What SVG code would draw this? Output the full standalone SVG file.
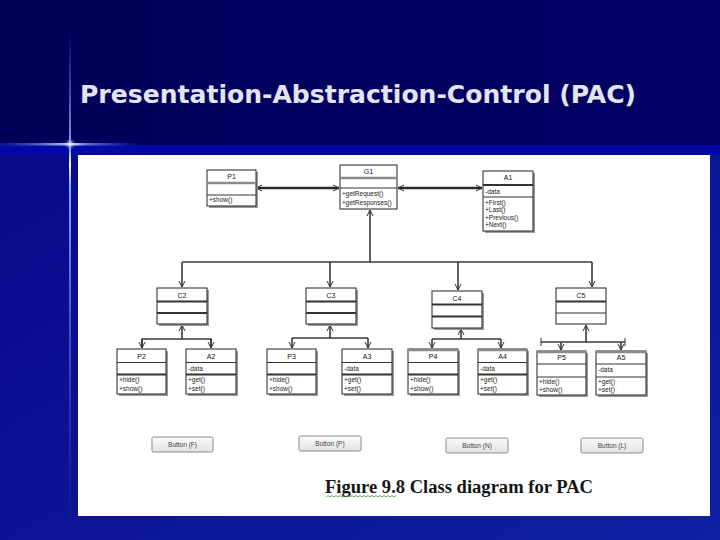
<svg xmlns="http://www.w3.org/2000/svg" width="720" height="540" viewBox="0 0 720 540">
<defs>
<linearGradient id="bgTop" x1="0" y1="0" x2="1" y2="0">
<stop offset="0" stop-color="#00005a"/><stop offset="1" stop-color="#000064"/>
</linearGradient>
<linearGradient id="bgBot" x1="0" y1="0" x2="1" y2="1">
<stop offset="0" stop-color="#08098a"/><stop offset="1" stop-color="#1020a2"/>
</linearGradient>
<linearGradient id="flareV" x1="0" y1="0" x2="0" y2="1">
<stop offset="0" stop-color="#6f8cff" stop-opacity="0"/>
<stop offset="0.24" stop-color="#9fb4ff" stop-opacity="0.9"/>
<stop offset="0.27" stop-color="#ffffff" stop-opacity="1"/>
<stop offset="0.31" stop-color="#9fb4ff" stop-opacity="0.9"/>
<stop offset="1" stop-color="#4060ff" stop-opacity="0"/>
</linearGradient>
<linearGradient id="flareH" x1="0" y1="0" x2="1" y2="0">
<stop offset="0" stop-color="#4060ff" stop-opacity="0.2"/>
<stop offset="0.45" stop-color="#b0c0ff" stop-opacity="0.9"/>
<stop offset="0.5" stop-color="#ffffff" stop-opacity="1"/>
<stop offset="0.6" stop-color="#8aa0ff" stop-opacity="0.8"/>
<stop offset="1" stop-color="#4060ff" stop-opacity="0"/>
</linearGradient>
<radialGradient id="glow">
<stop offset="0" stop-color="#ffffff" stop-opacity="0.9"/>
<stop offset="1" stop-color="#6080ff" stop-opacity="0"/>
</radialGradient>
<linearGradient id="btn" x1="0" y1="0" x2="0" y2="1">
<stop offset="0" stop-color="#fafafa"/><stop offset="1" stop-color="#e2e2e2"/>
</linearGradient>
<marker id="arr" viewBox="0 0 8 8" refX="7" refY="4" markerWidth="8" markerHeight="8" markerUnits="userSpaceOnUse" orient="auto-start-reverse">
<path d="M1,1 L7,4 L1,7" fill="none" stroke="#333" stroke-width="1"/>
</marker>
</defs>
<style>
.box{fill:#fff;stroke:#222;stroke-width:1}
.shd{fill:#9a9a9a}
.sep{stroke:#333;stroke-width:1}
.sepg{stroke:#8a8a8a;stroke-width:2.5}
.sept{stroke:#333;stroke-width:2}
.hd{font-family:"Liberation Sans",Arial,sans-serif;font-size:7px;fill:#111;text-anchor:middle}
.it{font-family:"Liberation Sans",Arial,sans-serif;font-size:6.5px;fill:#222}
.ln{fill:none;stroke:#3a3a3a;stroke-width:1.6}
.lnb{fill:none;stroke:#2a2a2a;stroke-width:2.6}
.bt{fill:url(#btn);stroke:#8c8c8c;stroke-width:1}
.btt{font-family:"Liberation Sans",Arial,sans-serif;font-size:6.5px;fill:#444;text-anchor:middle}
</style>

<!-- slide background -->
<rect x="0" y="0" width="720" height="145" fill="url(#bgTop)"/>
<rect x="0" y="145" width="720" height="395" fill="url(#bgBot)"/>
<rect x="0" y="145" width="720" height="10" fill="#0508a6"/>
<rect x="69" y="30" width="2" height="500" fill="url(#flareV)"/>
<rect x="0" y="143" width="140" height="2.5" fill="url(#flareH)"/>
<circle cx="70" cy="144" r="6" fill="url(#glow)"/>
<text x="80" y="103" font-family="DejaVu Sans, Verdana, sans-serif" font-weight="bold" font-size="25" fill="#e4e4ee" textLength="556" lengthAdjust="spacingAndGlyphs">Presentation-Abstraction-Control (PAC)</text>

<!-- white panel -->
<rect x="78" y="155" width="632" height="361" fill="#ffffff"/>

<!-- connectors -->
<g id="connectors">
<line class="lnb" x1="256" y1="188" x2="339" y2="188" marker-start="url(#arr)" marker-end="url(#arr)"/>
<line class="lnb" x1="398" y1="188" x2="482" y2="188" marker-start="url(#arr)" marker-end="url(#arr)"/>
<line class="ln" x1="370" y1="262" x2="370" y2="210" marker-end="url(#arr)"/>
<line class="ln" x1="182" y1="262" x2="592" y2="262"/>
<line class="ln" x1="182" y1="262" x2="182" y2="287" marker-end="url(#arr)"/>
<line class="ln" x1="330" y1="262" x2="330" y2="287" marker-end="url(#arr)"/>
<line class="ln" x1="458" y1="262" x2="458" y2="290" marker-end="url(#arr)"/>
<line class="ln" x1="592" y1="262" x2="592" y2="287" marker-end="url(#arr)"/>
<!-- C2 -->
<line class="ln" x1="182" y1="339" x2="182" y2="325" marker-end="url(#arr)"/>
<polyline class="ln" points="142,348 142,339 211,339 211,348"/>
<line class="ln" x1="142" y1="339" x2="142" y2="348" marker-end="url(#arr)"/>
<line class="ln" x1="211" y1="339" x2="211" y2="348" marker-end="url(#arr)"/>
<!-- C3 -->
<line class="ln" x1="330" y1="338" x2="330" y2="325" marker-end="url(#arr)"/>
<polyline class="ln" points="292,338 368,338"/>
<line class="ln" x1="292" y1="338" x2="292" y2="348" marker-end="url(#arr)"/>
<line class="ln" x1="368" y1="338" x2="368" y2="348" marker-end="url(#arr)"/>
<!-- C4 -->
<line class="ln" x1="461" y1="339" x2="461" y2="329" marker-end="url(#arr)"/>
<polyline class="ln" points="432,339 501,339"/>
<line class="ln" x1="432" y1="339" x2="432" y2="348" marker-end="url(#arr)"/>
<line class="ln" x1="501" y1="339" x2="501" y2="348" marker-end="url(#arr)"/>
<!-- C5 -->
<line class="ln" x1="586" y1="342" x2="586" y2="325" marker-end="url(#arr)"/>
<line class="ln" x1="541" y1="342" x2="625" y2="342" stroke="#111"/>
<line x1="541" y1="338" x2="541" y2="346" stroke="#333" stroke-width="1"/>
<line x1="625" y1="338" x2="625" y2="346" stroke="#333" stroke-width="1"/>
<line class="ln" x1="561" y1="342" x2="561" y2="350" marker-end="url(#arr)"/>
<line class="ln" x1="621" y1="342" x2="621" y2="350" marker-end="url(#arr)"/>
</g>

<!-- top row -->
<g id="P1">
<rect class="shd" x="209" y="172" width="49" height="36"/>
<rect class="box" x="207" y="170" width="49" height="36"/>
<line class="sepg" x1="207" y1="183" x2="256" y2="183"/>
<line class="sep" x1="207" y1="195" x2="256" y2="195"/>
<text class="hd" x="231.5" y="179">P1</text>
<text class="it" x="209" y="202">+show()</text>
</g>
<g id="G1">
<rect class="box" x="340" y="165" width="57" height="44"/>
<line class="sepg" x1="340" y1="178" x2="397" y2="178"/>
<line class="sep" x1="340" y1="188" x2="397" y2="188"/>
<text class="hd" x="368.5" y="174">G1</text>
<text class="it" x="342" y="196">+getRequest()</text>
<text class="it" x="342" y="204.5">+getResponses()</text>
</g>
<g id="A1">
<rect class="shd" x="485" y="173" width="50" height="60"/>
<rect class="box" x="483" y="171" width="50" height="60"/>
<line class="sept" x1="483" y1="185" x2="533" y2="185"/>
<line class="sep" x1="483" y1="197" x2="533" y2="197"/>
<text class="hd" x="508" y="180">A1</text>
<text class="it" x="485" y="193.5">-data</text>
<text class="it" x="485" y="205">+First()</text>
<text class="it" x="485" y="212">+Last()</text>
<text class="it" x="485" y="219.5">+Previous()</text>
<text class="it" x="485" y="227">+Next()</text>
</g>

<!-- controllers -->
<g id="C2">
<rect class="shd" x="159" y="290" width="50" height="36"/>
<rect class="box" x="157" y="288" width="50" height="36"/>
<line class="sept" x1="157" y1="301.5" x2="207" y2="301.5"/>
<line class="sept" x1="157" y1="313" x2="207" y2="313"/>
<text class="hd" x="182" y="297.5">C2</text>
</g>
<g id="C3">
<rect class="shd" x="308" y="290" width="50" height="36"/>
<rect class="box" x="306" y="288" width="50" height="36"/>
<line class="sept" x1="306" y1="301.5" x2="356" y2="301.5"/>
<line class="sept" x1="306" y1="313" x2="356" y2="313"/>
<text class="hd" x="331" y="297.5">C3</text>
</g>
<g id="C4">
<rect class="shd" x="434" y="293" width="50" height="37"/>
<rect class="box" x="432" y="291" width="50" height="37"/>
<line class="sept" x1="432" y1="304.5" x2="482" y2="304.5"/>
<line class="sept" x1="432" y1="316.5" x2="482" y2="316.5"/>
<text class="hd" x="457" y="300.5">C4</text>
</g>
<g id="C5">
<rect class="box" x="556" y="288" width="50" height="36"/>
<line class="sept" x1="556" y1="301.5" x2="606" y2="301.5"/>
<line class="sep" x1="556" y1="313" x2="606" y2="313"/>
<text class="hd" x="581" y="297.5">C5</text>
</g>

<!-- bottom row -->
<g id="P2">
<rect class="shd" x="119" y="351" width="49" height="45"/>
<rect class="box" x="117" y="349" width="49" height="45"/>
<line class="sep" x1="117" y1="362.5" x2="166" y2="362.5"/>
<line class="sept" x1="117" y1="374.5" x2="166" y2="374.5"/>
<text class="hd" x="141.5" y="358.5">P2</text>
<text class="it" x="119" y="382">+hide()</text>
<text class="it" x="119" y="390.5">+show()</text>
</g>
<g id="A2">
<rect class="shd" x="188" y="351" width="50" height="45"/>
<rect class="box" x="186" y="349" width="50" height="45"/>
<line class="sep" x1="186" y1="362.5" x2="236" y2="362.5"/>
<line class="sept" x1="186" y1="374.5" x2="236" y2="374.5"/>
<text class="hd" x="211" y="358.5">A2</text>
<text class="it" x="188" y="370.5">-data</text>
<text class="it" x="188" y="382">+get()</text>
<text class="it" x="188" y="390.5">+set()</text>
</g>
<g id="P3">
<rect class="shd" x="269" y="351" width="49" height="45"/>
<rect class="box" x="267" y="349" width="49" height="45"/>
<line class="sep" x1="267" y1="362.5" x2="316" y2="362.5"/>
<line class="sept" x1="267" y1="374.5" x2="316" y2="374.5"/>
<text class="hd" x="291.5" y="358.5">P3</text>
<text class="it" x="269" y="382">+hide()</text>
<text class="it" x="269" y="390.5">+show()</text>
</g>
<g id="A3">
<rect class="shd" x="344" y="351" width="50" height="45"/>
<rect class="box" x="342" y="349" width="50" height="45"/>
<line class="sep" x1="342" y1="362.5" x2="392" y2="362.5"/>
<line class="sept" x1="342" y1="374.5" x2="392" y2="374.5"/>
<text class="hd" x="367" y="358.5">A3</text>
<text class="it" x="344" y="370.5">-data</text>
<text class="it" x="344" y="382">+get()</text>
<text class="it" x="344" y="390.5">+set()</text>
</g>
<g id="P4">
<rect class="shd" x="410" y="351" width="50" height="45"/>
<rect class="box" x="408" y="349" width="50" height="45"/>
<line class="sepg" x1="408" y1="350" x2="458" y2="350"/>
<line class="sep" x1="408" y1="362.5" x2="458" y2="362.5"/>
<line class="sept" x1="408" y1="374.5" x2="458" y2="374.5"/>
<text class="hd" x="433" y="358.5">P4</text>
<text class="it" x="410" y="382">+hide()</text>
<text class="it" x="410" y="390.5">+show()</text>
</g>
<g id="A4">
<rect class="shd" x="480" y="351" width="49" height="45"/>
<rect class="box" x="478" y="349" width="49" height="45"/>
<line class="sepg" x1="478" y1="350" x2="527" y2="350"/>
<line class="sep" x1="478" y1="362.5" x2="527" y2="362.5"/>
<line class="sept" x1="478" y1="374.5" x2="527" y2="374.5"/>
<text class="hd" x="502.5" y="358.5">A4</text>
<text class="it" x="480" y="370.5">-data</text>
<text class="it" x="480" y="382">+get()</text>
<text class="it" x="480" y="390.5">+set()</text>
</g>
<g id="P5">
<rect class="shd" x="539" y="353" width="49" height="44"/>
<rect class="box" x="537" y="351" width="49" height="44"/>
<line class="sepg" x1="537" y1="352" x2="586" y2="352"/>
<line class="sep" x1="537" y1="364" x2="586" y2="364"/>
<line class="sep" x1="537" y1="377" x2="586" y2="377"/>
<text class="hd" x="561.5" y="360">P5</text>
<text class="it" x="539" y="384">+hide()</text>
<text class="it" x="539" y="392">+show()</text>
</g>
<g id="A5">
<rect class="shd" x="598" y="353" width="50" height="44"/>
<rect class="box" x="596" y="351" width="50" height="44"/>
<line class="sepg" x1="596" y1="352" x2="646" y2="352"/>
<line class="sep" x1="596" y1="364" x2="646" y2="364"/>
<line class="sep" x1="596" y1="377" x2="646" y2="377"/>
<text class="hd" x="621" y="360">A5</text>
<text class="it" x="598" y="372">-data</text>
<text class="it" x="598" y="384">+get()</text>
<text class="it" x="598" y="392">+set()</text>
</g>

<!-- buttons -->
<g id="ButtonF"><rect class="bt" x="152" y="437" width="61" height="15" rx="1.5"/><text class="btt" x="182.5" y="447">Button (F)</text></g>
<g id="ButtonP"><rect class="bt" x="299" y="436" width="62" height="15" rx="1.5"/><text class="btt" x="330" y="446">Button (P)</text></g>
<g id="ButtonN"><rect class="bt" x="446" y="438" width="62" height="15" rx="1.5"/><text class="btt" x="477" y="448">Button (N)</text></g>
<g id="ButtonL"><rect class="bt" x="581" y="438" width="62" height="15" rx="1.5"/><text class="btt" x="612" y="448">Button (L)</text></g>

<!-- caption -->
<text x="325" y="493" font-family="Liberation Serif, Times New Roman, serif" font-weight="bold" font-size="18" fill="#151515" textLength="268" lengthAdjust="spacingAndGlyphs">Figure 9.8 Class diagram for PAC</text>
<path d="M326,497 l2,-1.5 l2,1.5 l2,-1.5 l2,1.5 l2,-1.5 l2,1.5 l2,-1.5 l2,1.5 l2,-1.5 l2,1.5 l2,-1.5 l2,1.5 l2,-1.5 l2,1.5 l2,-1.5 l2,1.5 l2,-1.5 l2,1.5 l2,-1.5 l2,1.5 l2,-1.5 l2,1.5 l2,-1.5 l2,1.5 l2,-1.5 l2,1.5 l2,-1.5 l2,1.5 l2,-1.5 l2,1.5 l2,-1.5 l2,1.5 l2,-1.5 l2,1.5 l2,-1.5" fill="none" stroke="#3c9a3c" stroke-width="0.8"/>
</svg>
